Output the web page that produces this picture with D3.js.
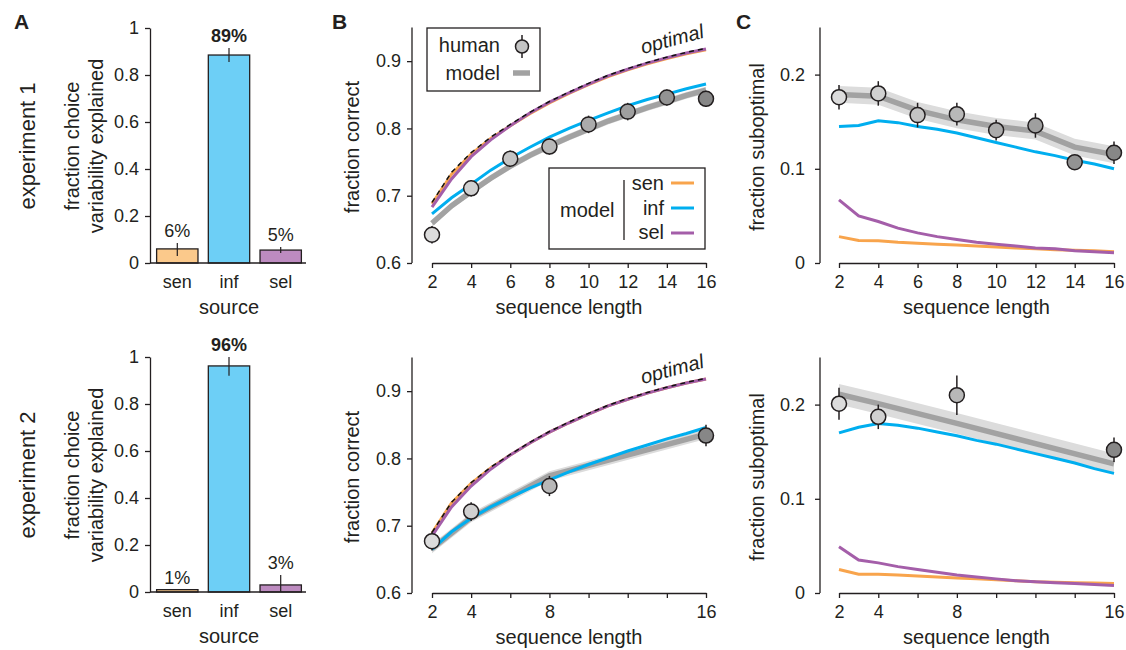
<!DOCTYPE html>
<html>
<head>
<meta charset="utf-8">
<script src="https://cdn.jsdelivr.net/npm/d3@7"></script>
<style>
  body { margin: 0; background: white; }
  svg text { font-family: "Liberation Sans", Arial, Helvetica, sans-serif; fill: #231f20; }
</style>
</head>
<body>
<div id="fig"></div>
<script>
// ---- panel A: fraction of choice variability explained per source ----
const sources = ["sen", "inf", "sel"];
const exp1Frac = [0.06, 0.885, 0.055];
const exp1Lo = [0.03, 0.855, 0.043];
const exp1Hi = [0.085, 0.915, 0.068];
const exp1Labels = ["6%", "89%", "5%"];
const exp2Frac = [0.01, 0.962, 0.03];
const exp2Lo = [0.01, 0.92, 0.0];
const exp2Hi = [0.01, 1.0, 0.072];
const exp2Labels = ["1%", "96%", "3%"];
const fracTicks = [0, 0.2, 0.4, 0.6, 0.8, 1];

// ---- sequence lengths ----
const seqAll = [2, 3, 4, 5, 6, 7, 8, 9, 10, 11, 12, 13, 14, 15, 16];
const seqExp1 = [2, 4, 6, 8, 10, 12, 14, 16];
const seqExp2 = [2, 4, 8, 16];

// ---- panel B: fraction correct ----
const optimalCorrect = [0.690, 0.735, 0.764, 0.787, 0.806, 0.824, 0.840, 0.854, 0.867, 0.879, 0.889, 0.898, 0.906, 0.913, 0.919];
const senCorrect1 = [0.688, 0.732, 0.762, 0.785, 0.804, 0.822, 0.838, 0.852, 0.865, 0.877, 0.887, 0.896, 0.904, 0.911, 0.917];
const infCorrect1 = [0.673, 0.697, 0.717, 0.738, 0.756, 0.772, 0.787, 0.800, 0.812, 0.823, 0.834, 0.843, 0.851, 0.859, 0.866];
const selCorrect1 = [0.683, 0.725, 0.758, 0.783, 0.804, 0.823, 0.839, 0.853, 0.866, 0.878, 0.888, 0.897, 0.905, 0.912, 0.918];
const modelCorrect1 = [0.659, 0.685, 0.706, 0.726, 0.744, 0.760, 0.774, 0.787, 0.799, 0.811, 0.821, 0.831, 0.840, 0.849, 0.857];
const humanCorrect1 = [0.642, 0.711, 0.755, 0.773, 0.806, 0.825, 0.846, 0.844];
const humanCorrectErr1 = [0.013, 0.012, 0.012, 0.012, 0.013, 0.013, 0.012, 0.012];

const senCorrect2 = [0.689, 0.734, 0.763, 0.786, 0.805, 0.823, 0.839, 0.853, 0.866, 0.878, 0.888, 0.897, 0.905, 0.912, 0.918];
const infCorrect2 = [0.665, 0.691, 0.711, 0.728, 0.742, 0.756, 0.768, 0.780, 0.791, 0.801, 0.811, 0.820, 0.829, 0.837, 0.846];
const selCorrect2 = [0.685, 0.728, 0.759, 0.784, 0.805, 0.823, 0.839, 0.853, 0.866, 0.878, 0.888, 0.897, 0.905, 0.912, 0.918];
const modelCorrect2 = [0.666, 0.712, 0.774, 0.836];
const humanCorrect2 = [0.677, 0.721, 0.759, 0.834];
const humanCorrectErr2 = [0.014, 0.014, 0.015, 0.016];
const correctTicks = [0.6, 0.7, 0.8, 0.9];

// ---- panel C: fraction suboptimal ----
const infSubopt1 = [0.145, 0.146, 0.151, 0.149, 0.145, 0.142, 0.138, 0.133, 0.128, 0.123, 0.118, 0.114, 0.109, 0.105, 0.100];
const selSubopt1 = [0.067, 0.050, 0.044, 0.037, 0.032, 0.028, 0.025, 0.022, 0.020, 0.018, 0.016, 0.015, 0.013, 0.012, 0.011];
const senSubopt1 = [0.028, 0.024, 0.0235, 0.022, 0.021, 0.020, 0.019, 0.018, 0.017, 0.016, 0.015, 0.014, 0.0135, 0.013, 0.012];
const modelSubopt1 = [0.179, 0.177, 0.162, 0.152, 0.145, 0.140, 0.123, 0.115];
const humanSubopt1 = [0.176, 0.180, 0.157, 0.158, 0.141, 0.146, 0.107, 0.117];
const humanSuboptErr1 = [0.013, 0.013, 0.013, 0.012, 0.011, 0.013, 0.006, 0.012];

const infSubopt2 = [0.170, 0.176, 0.180, 0.178, 0.175, 0.171, 0.167, 0.162, 0.158, 0.153, 0.148, 0.143, 0.138, 0.132, 0.127];
const selSubopt2 = [0.049, 0.035, 0.032, 0.028, 0.025, 0.022, 0.019, 0.017, 0.015, 0.013, 0.012, 0.011, 0.010, 0.009, 0.008];
const senSubopt2 = [0.025, 0.020, 0.020, 0.019, 0.018, 0.017, 0.016, 0.015, 0.014, 0.013, 0.012, 0.0115, 0.011, 0.0105, 0.010];
const modelSubopt2 = [0.211, 0.201, 0.180, 0.137];
const humanSubopt2 = [0.201, 0.187, 0.210, 0.152];
const humanSuboptErr2 = [0.017, 0.013, 0.021, 0.013];
const suboptTicks = [0, 0.1, 0.2];

const seqTicks = [2, 4, 6, 8, 10, 12, 14, 16];
const seqLabels1 = ["2", "4", "6", "8", "10", "12", "14", "16"];
const seqLabels2 = ["2", "4", "", "8", "", "", "", "16"];

// colours
const barFill = {sen: "#fbc98b", inf: "#6dcff6", sel: "#bd8bc0"};
const lineCol = {sen: "#f8a44c", inf: "#00aeef", sel: "#a45ea9"};
const ink = "#231f20";
const circleFill = d3.scaleLinear().domain([2, 16]).range(["#dcdcdc", "#878787"]);

const W = 1126, H = 650;
const svg = d3.select("#fig").append("svg")
  .attr("width", W).attr("height", H)
  .style("background", "white");

function styleAxis(ax) {
  ax.select(".domain").attr("stroke", ink).attr("stroke-width", 1.3);
  ax.selectAll(".tick line").attr("stroke", ink).attr("stroke-width", 1.3);
  ax.selectAll(".tick text").style("font-size", "18px").attr("fill", ink);
}

function rotLabel(g, x, y, text, size) {
  g.append("text")
    .attr("transform", `translate(${x},${y}) rotate(-90)`)
    .attr("text-anchor", "middle")
    .attr("dy", "0.35em")
    .style("font-size", size + "px")
    .text(text);
}

// bar panel (A)
function barPanel(dy, vals, lo, hi, labels, expName) {
  const g = svg.append("g").attr("transform", `translate(0,${dy})`);
  const y = d3.scaleLinear().domain([0, 1]).range([263, 28]);
  const x = d3.scaleBand().domain(sources).range([153, 305])
    .paddingInner(0.2).paddingOuter(0.07);

  const data = sources.map((s, i) => ({s, v: vals[i], lo: lo[i], hi: hi[i], lab: labels[i]}));

  g.selectAll("rect.bar").data(data).enter().append("rect")
    .attr("class", "bar")
    .attr("x", d => x(d.s))
    .attr("y", d => y(d.v))
    .attr("width", x.bandwidth())
    .attr("height", d => y(0) - y(d.v))
    .attr("fill", d => barFill[d.s])
    .attr("stroke", ink).attr("stroke-width", 1.3);

  g.selectAll("line.err").data(data).enter().append("line")
    .attr("x1", d => x(d.s) + x.bandwidth() / 2)
    .attr("x2", d => x(d.s) + x.bandwidth() / 2)
    .attr("y1", d => y(d.lo)).attr("y2", d => y(d.hi))
    .attr("stroke", ink).attr("stroke-width", 1.2);

  g.selectAll("text.pct").data(data).enter().append("text")
    .attr("x", d => x(d.s) + x.bandwidth() / 2)
    .attr("y", d => y(Math.max(d.hi, d.v)) - 6)
    .attr("text-anchor", "middle")
    .style("font-size", "18px")
    .style("font-weight", d => d.s === "inf" ? "bold" : "normal")
    .text(d => d.lab);

  const ax = g.append("g").attr("transform", "translate(150,0)")
    .call(d3.axisLeft(y).tickValues(fracTicks).tickSize(5).tickSizeOuter(0).tickPadding(6)
      .tickFormat(d => (d === 0 || d === 1) ? String(d) : d.toFixed(1)));
  styleAxis(ax);

  g.append("line").attr("x1", 150).attr("x2", 306).attr("y1", 263).attr("y2", 263)
    .attr("stroke", ink).attr("stroke-width", 1.3);

  g.selectAll("text.cat").data(sources).enter().append("text")
    .attr("x", d => x(d) + x.bandwidth() / 2)
    .attr("y", 288)
    .attr("text-anchor", "middle")
    .style("font-size", "18px")
    .text(d => d);

  g.append("text").attr("x", 229).attr("y", 314).attr("text-anchor", "middle")
    .style("font-size", "20px").text("source");

  rotLabel(g, 72, 146, "fraction choice", 20);
  rotLabel(g, 96, 146, "variability explained", 20);
  rotLabel(g, 27, 146, expName, 22);
}

// line panel (B and C)
function linePanel(o) {
  const g = svg.append("g").attr("transform", `translate(0,${o.dy})`);
  const x = d3.scaleLinear().domain([2, 16]).range(o.xr);
  const y = d3.scaleLinear().domain(o.yd).range([263, 27.5]);
  const line = d3.line().x(d => x(d[0])).y(d => y(d[1]));
  const zip = (xs, ys) => xs.map((v, i) => [v, ys[i]]);

  // model band
  const mod = zip(o.modelX, o.model);
  g.append("path").datum(mod)
    .attr("d", d3.area().x(d => x(d[0])).y0(d => y(d[1] - o.band)).y1(d => y(d[1] + o.band)))
    .attr("fill", "#dcdcdc");
  g.append("path").datum(mod).attr("d", line)
    .attr("fill", "none").attr("stroke", "#a2a2a2").attr("stroke-width", 5.5);

  // model variants
  [["inf", o.inf], ["sen", o.sen], ["sel", o.sel]].forEach(([k, vals]) => {
    g.append("path").datum(zip(seqAll, vals)).attr("d", line)
      .attr("fill", "none").attr("stroke", lineCol[k]).attr("stroke-width", 3);
  });

  if (o.optimal) {
    g.append("path").datum(zip(seqAll, o.optimal)).attr("d", line)
      .attr("fill", "none").attr("stroke", "#111").attr("stroke-width", 1.5)
      .attr("stroke-dasharray", "5,4");
    const last = o.optimal[o.optimal.length - 1];
    g.append("text")
      .attr("transform", `translate(${x(16) - 1},${y(last) - 11}) rotate(-15)`)
      .attr("text-anchor", "end")
      .style("font-size", "20px").style("font-style", "italic")
      .text("optimal");
  }

  // human data
  const hum = o.humanX.map((s, i) => ({s, v: o.human[i], e: o.humanErr[i]}));
  g.selectAll("line.herr").data(hum).enter().append("line")
    .attr("x1", d => x(d.s)).attr("x2", d => x(d.s))
    .attr("y1", d => y(d.v - d.e)).attr("y2", d => y(d.v + d.e))
    .attr("stroke", ink).attr("stroke-width", 1.5);
  g.selectAll("circle.hum").data(hum).enter().append("circle")
    .attr("cx", d => x(d.s)).attr("cy", d => y(d.v)).attr("r", 7.5)
    .attr("fill", d => circleFill(d.s))
    .attr("stroke", ink).attr("stroke-width", 1.5);

  // axes
  const ay = g.append("g").attr("transform", `translate(${o.axisX},0)`)
    .call(d3.axisLeft(y).tickValues(o.yTicks).tickSize(5).tickSizeOuter(0).tickPadding(o.yPad)
      .tickFormat(d => d === 0 ? "0" : d.toFixed(1)));
  styleAxis(ay);
  // extend the y axis line to the top of the panel
  ay.select(".domain").attr("d", `M0,263V27.5`);

  const ax = g.append("g").attr("transform", "translate(0,263)")
    .call(d3.axisBottom(x).tickValues(seqTicks).tickSize(5).tickSizeOuter(0).tickPadding(7)
      .tickFormat((d, i) => o.xLabels[i]));
  styleAxis(ax);

  g.append("text").attr("x", (o.xr[0] + o.xr[1]) / 2).attr("y", 314)
    .attr("text-anchor", "middle").style("font-size", "20px").text("sequence length");
  rotLabel(g, o.yLabX, 147, o.yLabel, 20);
  return g;
}

barPanel(0, exp1Frac, exp1Lo, exp1Hi, exp1Labels, "experiment 1");
barPanel(329, exp2Frac, exp2Lo, exp2Hi, exp2Labels, "experiment 2");

const bTop = linePanel({
  dy: 0, xr: [432, 706], yd: [0.6, 0.95], axisX: 412, yPad: 6, yTicks: correctTicks,
  xLabels: seqLabels1, yLabel: "fraction correct", yLabX: 352,
  modelX: seqAll, model: modelCorrect1, band: 0.005,
  inf: infCorrect1, sen: senCorrect1, sel: selCorrect1, optimal: optimalCorrect,
  humanX: seqExp1, human: humanCorrect1, humanErr: humanCorrectErr1
});
linePanel({
  dy: 330, xr: [432, 706], yd: [0.6, 0.95], axisX: 412, yPad: 6, yTicks: correctTicks,
  xLabels: seqLabels2, yLabel: "fraction correct", yLabX: 352,
  modelX: seqExp2, model: modelCorrect2, band: 0.007,
  inf: infCorrect2, sen: senCorrect2, sel: selCorrect2, optimal: optimalCorrect,
  humanX: seqExp2, human: humanCorrect2, humanErr: humanCorrectErr2
});
linePanel({
  dy: 0, xr: [839, 1114], yd: [0, 0.25], axisX: 820, yPad: 10, yTicks: suboptTicks,
  xLabels: seqLabels1, yLabel: "fraction suboptimal", yLabX: 757,
  modelX: seqExp1, model: modelSubopt1, band: 0.009,
  inf: infSubopt1, sen: senSubopt1, sel: selSubopt1,
  humanX: seqExp1, human: humanSubopt1, humanErr: humanSuboptErr1
});
linePanel({
  dy: 330, xr: [839, 1114], yd: [0, 0.25], axisX: 820, yPad: 10, yTicks: suboptTicks,
  xLabels: seqLabels2, yLabel: "fraction suboptimal", yLabX: 757,
  modelX: seqExp2, model: modelSubopt2, band: 0.011,
  inf: infSubopt2, sen: senSubopt2, sel: selSubopt2,
  humanX: seqExp2, human: humanSubopt2, humanErr: humanSuboptErr2
});

// legends in panel B (top)
const lg1 = bTop.append("g");
lg1.append("rect").attr("x", 427).attr("y", 28).attr("width", 113).attr("height", 63)
  .attr("fill", "white").attr("stroke", ink).attr("stroke-width", 1.3);
lg1.append("text").attr("x", 500).attr("y", 52).attr("text-anchor", "end")
  .style("font-size", "20px").text("human");
lg1.append("text").attr("x", 500).attr("y", 80).attr("text-anchor", "end")
  .style("font-size", "20px").text("model");
lg1.append("line").attr("x1", 522).attr("x2", 522).attr("y1", 35).attr("y2", 58)
  .attr("stroke", ink).attr("stroke-width", 1.5);
lg1.append("circle").attr("cx", 522).attr("cy", 46.5).attr("r", 6.5)
  .attr("fill", "#c4c4c4").attr("stroke", ink).attr("stroke-width", 1.5);
lg1.append("line").attr("x1", 513).attr("x2", 530).attr("y1", 73).attr("y2", 73)
  .attr("stroke", "#a2a2a2").attr("stroke-width", 5.5);

const lg2 = bTop.append("g");
lg2.append("rect").attr("x", 549).attr("y", 168).attr("width", 156).attr("height", 81)
  .attr("fill", "white").attr("stroke", ink).attr("stroke-width", 1.3);
lg2.append("text").attr("x", 560).attr("y", 217).style("font-size", "20px").text("model");
lg2.append("line").attr("x1", 624).attr("x2", 624).attr("y1", 180).attr("y2", 240)
  .attr("stroke", ink).attr("stroke-width", 1.3);
sources.forEach((s, i) => {
  lg2.append("text").attr("x", 664).attr("y", 190 + i * 24.5).attr("text-anchor", "end")
    .style("font-size", "20px").text(s);
  lg2.append("line").attr("x1", 671).attr("x2", 694)
    .attr("y1", 183 + i * 25).attr("y2", 183 + i * 25)
    .attr("stroke", lineCol[s]).attr("stroke-width", 3);
});

// panel letters
[["A", 14], ["B", 332], ["C", 736]].forEach(([t, x]) => {
  svg.append("text").attr("x", x).attr("y", 29)
    .style("font-size", "21px").style("font-weight", "bold").text(t);
});
</script>
</body>
</html>
